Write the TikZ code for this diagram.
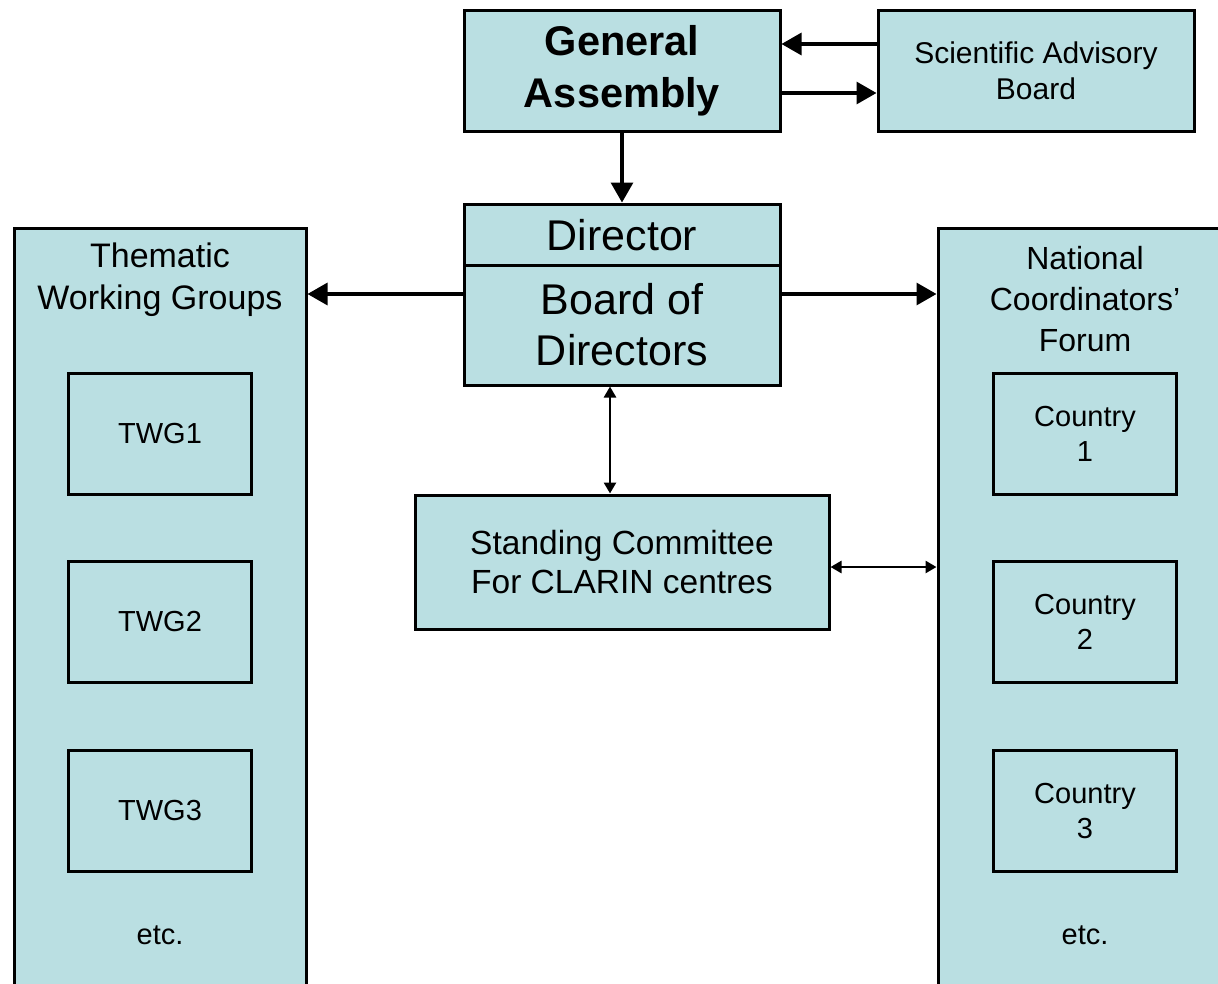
\documentclass[tikz,border=0pt]{standalone}
\usepackage{fontspec}
\setmainfont{Liberation Sans}
\usetikzlibrary{arrows.meta}
\definecolor{paleblue}{RGB}{186,223,226}
\tikzset{
  box/.style={draw=black, line width=3pt, fill=paleblue, inner sep=0pt, align=center},
  lbl/.style={inner sep=0pt, align=center},
  arr/.style={line width=3.2pt, -{Triangle[length=20pt,width=22pt]}},
  darr/.style={line width=2.6pt, {Triangle[length=11pt,width=12pt]}-{Triangle[length=11pt,width=12pt]}},
}
\begin{document}
\begin{tikzpicture}[x=1pt,y=-1pt]
\clip (0,0) rectangle (1218,983);
\fill[white] (0,0) rectangle (1218,983);

% top row
\node[box, minimum width=316pt, minimum height=121pt,
      font=\fontsize{41.5}{52}\selectfont\bfseries] (ga) at (622,70.5) {General\\Assembly};
\node[box, minimum width=316pt, minimum height=121pt,
      font=\fontsize{30}{36}\selectfont] (sab) at (1036,70.5) {Scientific Advisory\\Board};

% director and board of directors
\node[box, minimum width=316pt, minimum height=62pt,
      font=\fontsize{43}{51}\selectfont] (dir) at (622,235) {Director};
\node[box, minimum width=316pt, minimum height=120pt,
      font=\fontsize{43}{51}\selectfont] (board) at (622,325) {Board of\\Directors};

% standing committee
\node[box, minimum width=414pt, minimum height=134pt,
      font=\fontsize{33.5}{39}\selectfont] (sc) at (622,562) {Standing Committee\\For CLARIN centres};

% side columns
\node[box, minimum width=292pt, minimum height=800pt] (twgcol) at (160,628) {};
\node[box, minimum width=294pt, minimum height=800pt] (ncfcol) at (1085,628) {};

\node[lbl, font=\fontsize{34}{42}\selectfont] (twgtitle) at (160,280) {Thematic\\Working Groups};
\node[lbl, font=\fontsize{32}{41}\selectfont] (ncftitle) at (1085,299) {National\\Coordinators’\\Forum};

\foreach \i/\y in {1/434,2/622,3/811}{
  \node[box, minimum width=183pt, minimum height=121pt,
        font=\fontsize{29}{35}\selectfont] (twg\i) at (160,\y) {TWG\i};
  \node[box, minimum width=183pt, minimum height=121pt,
        font=\fontsize{29}{35}\selectfont] (cty\i) at (1085,\y) {Country\\\i};
}
\node[lbl, font=\fontsize{29}{35}\selectfont] (twgetc) at (160,935) {etc.};
\node[lbl, font=\fontsize{29}{35}\selectfont] (ncfetc) at (1085,935) {etc.};

% connectors
\draw[arr] ([yshift=26.5pt]sab.west) -- ([yshift=26.5pt]ga.east);
\draw[arr] ([yshift=-22.5pt]ga.east) -- ([yshift=-22.5pt]sab.west);
\draw[arr] (ga.south) -- (dir.north);
\coordinate (lvl) at (0,294);
\draw[arr] (board.west |- lvl) -- (twgcol.east |- lvl);
\draw[arr] (board.east |- lvl) -- (ncfcol.west |- lvl);
\draw[darr] ([xshift=-12pt]board.south) -- ([xshift=-12pt]sc.north);
\coordinate (sclvl) at ([yshift=-5pt]sc.east);
\draw[darr] (sclvl) -- (ncfcol.west |- sclvl);
\end{tikzpicture}
\end{document}
